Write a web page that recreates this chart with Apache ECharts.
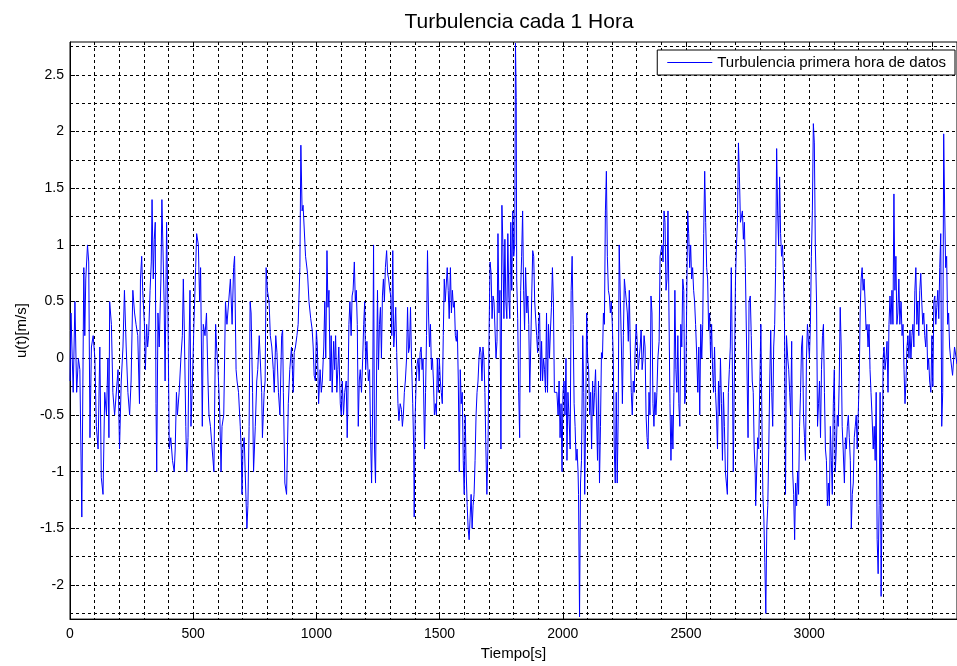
<!DOCTYPE html>
<html>
<head>
<meta charset="utf-8">
<script src="https://cdn.jsdelivr.net/npm/echarts@6/dist/echarts.min.js"></script>
<style>
html, body { margin: 0; background: #fff; }
#turbulencia { width: 957px; height: 666px; }
</style>
</head>
<body>
<div id="turbulencia"></div>
<script>
// tiempo [s] y u(t) [m/s]
var tiempo = [
  0,4,13,20,27,34,40,48,56,60, 64,71,76,81,87,94,101,107,114,121,
  127,134,141,148,154,158,161,168,174,181, 188,195,201,208,215,221,228,235,242,248,
  255,262,268,275,282,286,291,295,302,306, 311,315,319,325,330,333,338,342,346,349,
  352,357,362,369,373,378,382,386,392,397, 403,409,416,423,427,432,436,443,450,456,
  460,464,470,474,479,483,487,491,497,503, 510,514,521,526,530,537,541,548,554,560,
  564,570,577,584,591,595,601,608,613,617, 624,631,637,644,651,658,664,668,674,678,
  684,691,695,698,702,707,711,718,722,727, 731,735,741,745,752,758,762,768,772,778,
  781,788,792,796,801,808,813,819,825,829, 835,840,846,852,859,863,866,872,879,886,
  892,899,906,910,915,921,926,933,937,942, 946,
  956,964,970,977,983,987,991,996,1000,1004, 1009,1015,1020,1024,1030,1034,1038,1043,1047,1051,
  1056,1060,1064,1070,1074,1078,1083,1087,1091,1097, 1101,1105,1110,1115,1121,1125,1127,1132,1136,1141,
  1145,1149,1154,1158,1162,1166,1170,1174,1178,1183, 1188,1192,1196,1200,1205,1211,1216,1220,1224,1228,
  1232,1236,1240,1244,1248,1252,1256,1260,1264,1268, 1272,1276,1280,1285,1289,1293,1298,1302,1306,1310,
  1314,1318,1322,1326,1331,1335,1340,1345,1349,1353, 1357,1361,1366,1370,1374,1378,1382,1386,1391,1395,
  1397,1401,1405,1409,1413,1417,1421,1425,1429,1433, 1439,1443,1447,1451,1455,1459,1463,1467,1471,1475,
  1479,1483,1487,1491,1495,1499,1503,1507,1511,1515, 1519,1523,1527,1531,1535,1539,1544,1548,1552,1556,
  1560,1564,1568,1572,1576,1580,1584,1588,1592,1596, 1600,1604,1608,1612,1616,1620,1624,1628,1632,1636,
  1640,1644,1648,1652,1656,1660,1664,1668,1672,1676, 1680,1684,1688,1692,1697,1701,1705,1709,1713,1717,
  1721,1725,1729,1733,1737,1741,1745,1749,1753,1757, 1761,1765,1769,1773,1777,1781,1785,1789,1793,1797,
  1801,1805,1808,1811,1813,1817,1821,1825,1829,1833, 1837,1841,1845,1849,1854,1858,1862,1866,1870,1874,
  1878,1882,1886,1890,1894,1898,1902,1906,1910,1914, 1918,1922,1926,1930,1934,1938,1942,1946,1950,1954,
  1958,1962,1966,
  1976,1981,1985,1989,1993,1997,2001,2005,2009,2013, 2017,2021,2025,2030,2034,2038,2042,2046,2050,2054,
  2058,2062,2064,2068,2072,2076,2081,2085,2089,2093, 2097,2101,2105,2109,2113,2117,2121,2125,2129,2133,
  2137,2141,2145,2149,2153,2157,2161,2165,2169,2173, 2177,2181,2185,2189,2193,2197,2201,2205,2209,2213,
  2217,2221,2225,2229,2234,2238,2242,2246,2250,2254, 2258,2262,2266,2270,2274,2278,2282,2286,2290,2294,
  2298,2302,2306,2310,2314,2318,2322,2326,2330,2334, 2338,2342,2346,2350,2354,2358,2362,2366,2370,2374,
  2378,2382,2386,2391,2395,2399,2403,2407,2411,2415, 2419,2423,2427,2431,2435,2439,2443,2447,2451,2455,
  2459,2463,2467,2471,2475,2479,2483,2487,2491,2495, 2499,2503,2507,2511,2515,2519,2523,2527,2531,2535,
  2539,2544,2548,2552,2556,2560,2564,2568,2572,2576, 2580,2584,2588,2592,2596,2600,2604,2608,2612,2616,
  2620,2624,2628,2632,2636,2640,2644,2648,2652,2656, 2660,2664,2668,2672,2676,2680,2684,2688,2692,2697,
  2701,2705,2709,2713,2717,2721,2725,2729,2733,2737, 2741,
  2752,2756,2761,2765,2769,2773,2777,2781,2783,2787, 2791,2795,2800,2804,2808,2812,2816,2820,2824,2828,
  2832,2836,2840,2844,2848,2852,2856,2860,2864,2868, 2872,2876,2880,2884,2888,2892,2896,2900,2904,2908,
  2913,2917,2921,2925,2929,2933,2937,2941,2945,2949, 2953,2957,2961,2965,2969,2973,2977,2981,2985,2989,
  2993,2997,3001,3005,3009,3013,3017,3021,3025,3030, 3034,3038,3042,3046,3050,3054,3058,3062,3066,3070,
  3074,3078,3082,3086,3090,3094,3098,3102,3106,3110, 3114,3118,3122,3126,3130,3134,3138,3143,3147,3151,
  3155,3159,3163,3167,3171,3175,3179,3183,3187,3191, 3195,3199,3203,3207,3211,3215,3219,3223,3227,3231,
  3235,3239,3243,3247,3251,3255,3260,3264,3268,3272, 3276,3280,3284,3288,3292,3296,3300,3304,3308,3312,
  3316,3320,3324,3328,3332,3336,3340,3344,3348,3352, 3356,3360,3364,3368,3373,3377,3381,3385,3389,3393,
  3397,3401,3405,3409,3413,3417,3421,3425,3429,3433, 3437,3441,3445,3449,3453,3457,3461,3465,3469,3473,
  3477,3481,3485,3489,3494,3498,3502,3506,3510,3514, 3518,3522,3526,3530,3534,3538,3542,3546,3550,3554,
  3558,3562,3566,3570,3574,3582,3590,3600
];
var turbulencia = [
  -0.2,0.4,-0.3,0.5,-0.3,0,-0.1,-1.4,0.8,0.2, 0.7,1.0,0.85,-0.7,0.1,0.2,0,-0.6,-0.8,0.1,
  -1.05,-1.2,-0.3,-0.5,0,-0.7,0.5,0.3,-0.3,-0.5, -0.5,-0.1,-0.8,-0.2,0.1,0.6,0.1,-0.3,-0.5,-0.2,
  0.6,0.4,0.3,0.2,-0.4,0.7,0.9,0.6,0.3,-0.1, 0.3,0.1,0.2,0.6,0.85,1.4,0.7,1.05,1.2,-0.4,
  -1.0,0.4,0.1,0.7,1.4,1.4,0.5,-0.2,1.2,0.5, -0.8,-0.7,-0.9,-1.0,-0.8,-0.3,-0.5,-0.3,0,0.2,
  0.7,0.25,-0.6,-1.0,-0.7,0.1,0.6,-0.6,-0.2,0.3, 0.8,1.1,1.0,0.5,0.8,-0.6,0.3,0.2,0.4,-0.2,
  -0.5,-0.6,-0.8,-1.0,0.3,0.1,-0.1,-0.5,-1.0,-0.6, -0.5,0.5,0.3,0.5,0.7,0.3,0.8,0.9,-0.1,-0.2,
  -0.3,-0.6,-0.8,-1.2,-0.8,-0.7,-1.0,-1.5,-1.3,-0.6, 0.5,0.4,-0.3,-1.0,-0.6,-0.2,-0.1,0.2,0,-0.3,
  -0.7,-0.3,-0.2,0.8,0.6,0.5,0.2,0.1,-0.1,-0.3, 0.2,0.05,-0.3,-0.5,0.2,0.25,-0.3,-1.1,-1.2,-0.4,
  -0.1,0.1,-0.3,0.05,0.1,0.2,0.3,0.8,1.88,1.3, 1.35,
  0.9,0.75,0.5,0.35,0.25,0.1,-0.15,-0.2,0.25,0.1, -0.4,-0.1,-0.3,-0.2,0.1,0.5,0.0,0.95,0.45,0.6,
  -0.2,0.2,-0.3,0.15,-0.1,0.2,-0.3,-0.1,0.1,-0.4, -0.5,-0.2,-0.5,-0.3,-0.2,-0.7,-0.5,0.3,0.5,0.2,
  0.55,0.6,0.85,0.5,0.6,0.3,-0.6,-0.2,-0.1,-0.3, 0.0,0.3,0.5,-0.1,0.15,-0.2,-0.1,-0.7,-1.1,-0.5,
  1.0,-0.8,-1.1,-0.2,0.6,-0.1,0.3,0.45,0.0,0.55, 0.7,0.5,0.8,0.95,0.75,0.7,0.6,0.55,0.2,0.95,
  0.1,0.25,0.45,0.05,-0.4,-0.55,-0.4,-0.45,-0.6,-0.5, -0.3,-0.2,0.0,0.45,0.05,0.1,0.45,0.0,-0.4,-0.8,
  -1.4,-0.5,-0.2,-0.05,0.0,-0.2,0.05,0.1,-0.1,0.0, -0.8,-0.3,0.2,0.95,0.4,0.1,0.3,-0.1,0.0,-0.2,
  -0.5,-0.4,-0.5,0.0,-0.3,0.0,-0.2,-0.3,-0.4,0.2, 0.7,0.5,0.5,0.8,0.6,0.35,0.8,0.4,0.6,0.45,
  0.5,0.2,0.15,0.25,-0.2,-1.0,-0.1,-0.4,-0.3,-0.9, -1.2,-0.5,-1.0,-1.3,-1.5,-1.6,-1.4,-1.2,-1.5,-1.3,
  -1.2,-0.9,-0.5,-0.3,-0.2,0.0,0.1,0.05,-0.2,0.1, 0.0,-0.3,-0.8,-1.2,-0.7,0.25,0.85,0.75,0.35,0.55,
  0.5,0.25,0.0,0.15,1.1,0.4,0.6,-0.8,1.35,1.0, 0.35,1.05,0.5,0.35,1.1,0.55,0.35,1.2,0.6,1.3,
  0.9,1.0,2.78,2.3,0.7,0.35,-0.3,-0.7,0.6,0.9, 1.3,0.6,0.25,0.8,0.4,0.55,0.3,-0.3,0.1,0.55,
  0.95,0.9,0.5,0.5,0.2,0.05,0.3,0.4,-0.2,0.15, -0.2,0.0,-0.1,-0.3,0.4,-0.3,0.3,0.0,0.25,0.45,
  0.8,0.5,-0.3,
  -0.3,-0.5,-0.2,-0.7,-0.4,-1.0,-0.3,-0.2,-0.5,0.0, -0.9,-0.3,-0.5,-0.8,0.6,0.9,0.3,-0.4,-0.6,-0.9,
  -0.8,-1.0,-1.2,-2.28,-1.1,-0.9,0.2,-0.3,-1.2,-0.5, 0.4,0.0,-0.1,-0.5,-0.3,-0.8,-0.2,-0.5,-0.3,-0.1,
  -0.5,-0.9,-0.2,-1.1,-0.6,0.05,0.0,0.4,0.3,1.3, 1.65,0.9,0.6,0.55,0.4,0.5,0.3,0.0,-0.8,-1.1,
  -0.3,-1.1,-0.5,1.0,0.5,0.1,-0.4,0.2,0.7,0.6, 0.6,0.4,0.15,0.6,0.1,-0.3,-0.5,-0.2,-0.3,0.1,
  0.3,0.15,-0.1,0.0,0.1,0.25,-0.1,0.0,0.2,0.1, -0.5,-0.7,-0.8,-0.3,-0.5,0.55,0.4,-0.4,-0.6,-0.3,
  -0.5,-0.3,0.0,0.15,0.9,0.9,1.0,0.85,1.3,1.2, 0.6,0.7,1.3,0.4,-0.4,-0.9,-0.5,-0.8,-0.3,0.6,
  -0.1,-0.3,0.2,-0.4,-0.6,0.3,0.1,0.7,0.6,-0.4, -0.3,0.5,1.3,1.1,0.8,1.0,0.7,0.8,0.6,0.5,
  0.3,0.0,-0.3,0.1,-0.5,0.3,0.0,0.3,1.1,1.65, 1.2,0.8,0.7,0.25,0.4,0.0,0.3,-0.1,-0.3,0.1,
  -0.3,-0.5,-0.8,-0.2,-0.5,0.0,-0.4,-0.9,-0.3,-0.6, -1.0,-1.1,-1.2,-0.3,-0.1,0.1,0.8,0.0,-1.0,-1.0,
  0.7,1.0,1.2,1.9,1.6,1.2,1.2,1.3,1.05,1.2, 0.8,
  -0.7,0.5,0.55,0.2,-0.2,-0.3,-0.8,-1.0,-1.3,-1.0, -0.7,-0.8,-0.2,0.3,-0.5,-1.2,-1.4,-1.8,-2.25,-1.5,
  -1.3,-0.8,-0.2,0.25,-0.3,-0.6,0.1,0.3,0.8,1.85, 1.3,1.0,1.6,1.1,0.9,1.0,0.7,0.3,-1.2,0.2,
  0.0,-0.1,-0.3,-0.5,0.15,-1.0,-1.2,-1.6,-1.1,-1.3, -1.0,-1.2,-0.6,-0.3,0.1,0.2,-0.5,-0.7,-0.9,0.0,
  0.3,0.3,0.0,0.3,0.9,1.3,2.07,1.9,1.0,0.5, -0.6,-0.4,-0.2,-0.7,-0.1,0.2,0.3,-0.3,-0.8,-0.9,
  -1.3,-1.1,-1.3,-0.6,-0.9,-1.2,-0.4,-0.1,-1.0,-0.8, -0.5,-0.6,-0.2,0.45,0.1,-0.6,-0.8,-1.1,-0.7,-0.8,
  -0.6,-0.5,-0.7,-0.9,-1.5,-1.2,-1.1,-0.7,-0.6,-0.5, -0.8,-0.5,-0.2,0.4,0.7,0.8,0.6,0.7,0.5,0.25,
  0.3,0.1,0.3,-0.1,-0.3,-0.5,-0.8,-0.6,-0.9,-0.3, -1.6,-1.9,-1.3,-0.3,-2.1,-1.2,0.0,0.1,-0.1,0.0,
  0.15,-0.3,0.3,0.55,0.3,0.6,0.3,1.45,0.6,0.9, 0.3,0.4,0.7,0.3,0.5,0.2,0.3,-0.1,-0.4,-0.2,
  0.1,0.2,0.0,0.25,0.0,0.2,0.3,0.1,0.6,0.8, 0.3,0.5,0.2,0.6,0.75,0.5,0.3,0.4,0.2,0.1,
  0.3,-0.1,0.0,-0.2,-0.3,0.2,-0.25,0.5,0.55,0.3, 0.45,0.6,0.35,0.8,1.1,-0.6,-0.3,1.98,1.3,0.8,
  0.9,0.3,0.4,0.1,0.0,-0.15,0.1,-0.05
];
var xTicks = [0, 500, 1000, 1500, 2000, 2500, 3000, 3500];
var yTicks = [-2, -1.5, -1, -0.5, 0, 0.5, 1, 1.5, 2, 2.5];
var yMin = -2.3, yMax = 2.79;
var xMin = 0, xMax = 3600;

var datos = tiempo.map(function (t, i) { return [t, turbulencia[i]]; });

var chart = echarts.init(document.getElementById('turbulencia'));
var fuente = 'Liberation Sans, Arial, sans-serif';
var rejilla = { color: '#000', width: 1, type: [3, 3] };
var nada = 'rgba(0,0,0,0)';

var option = {
    animation: false,
    backgroundColor: '#fff',
    title: {
        text: 'Turbulencia cada 1 Hora',
        left: 514,
        top: 7,
        textAlign: 'center',
        textStyle: { fontFamily: fuente, fontSize: 21, fontWeight: 'normal', color: '#000' }
    },
    legend: {
        data: [{ name: 'Turbulencia primera hora de datos', icon: 'rect' }],
        right: 2,
        top: 50,
        padding: [5, 9, 5, 10],
        itemWidth: 45,
        itemHeight: 1,
        itemStyle: { color: '#0000ff', borderWidth: 0 },
        backgroundColor: '#fff',
        borderColor: '#000',
        borderWidth: 1,
        borderRadius: 0,
        textStyle: { fontFamily: fuente, fontSize: 15, color: '#000' }
    },
    grid: {
        left: 70, right: -6, top: 42, bottom: 44,
        show: true, borderColor: '#000', borderWidth: 1, backgroundColor: '#fff'
    },
    xAxis: [
        {   // rejilla cada 100 s
            type: 'value', position: 'bottom', min: xMin, max: xMax, interval: 100,
            axisLine: { show: true, onZero: false, lineStyle: { color: '#000' } },
            axisTick: { show: false }, axisLabel: { show: false },
            splitLine: { show: true, lineStyle: rejilla }
        },
        {   // marcas y etiquetas
            type: 'value', position: 'bottom', min: xMin, max: xMax, interval: 500,
            axisLine: { show: false, onZero: false },
            axisTick: { show: true, inside: true, length: 5, customValues: xTicks, lineStyle: { color: '#000' } },
            axisLabel: { customValues: xTicks, showMaxLabel: false, margin: 8, fontFamily: fuente, fontSize: 14, color: '#000',
                formatter: function (v) { return String(v); } },
            splitLine: { show: false },
            name: 'Tiempo[s]', nameLocation: 'middle', nameGap: 25,
            nameTextStyle: { fontFamily: fuente, fontSize: 15, color: '#000' }
        },
        {   // marcas superiores
            type: 'value', position: 'top', min: xMin, max: xMax, interval: 500,
            axisLine: { show: false, onZero: false },
            axisTick: { show: true, inside: true, length: 5, customValues: xTicks, lineStyle: { color: '#000' } },
            axisLabel: { show: false }, splitLine: { show: false }
        }
    ],
    yAxis: [
        {   // rejilla cada 0.25 (una linea de cada cinco de 0.05)
            type: 'value', position: 'left', min: yMin, max: yMax, interval: 0.05,
            axisLine: { show: true, onZero: false, lineStyle: { color: '#000' } },
            axisTick: { show: false }, axisLabel: { show: false },
            splitLine: { show: true, lineStyle: { color: [nada, '#000', nada, nada, nada], width: 1, type: [3, 3] } }
        },
        {   // marcas y etiquetas
            type: 'value', position: 'left', min: yMin, max: yMax, interval: 0.05,
            axisLine: { show: false, onZero: false },
            axisTick: { show: true, inside: true, length: 5, customValues: yTicks, lineStyle: { color: '#000' } },
            axisLabel: { customValues: yTicks, margin: 6, fontFamily: fuente, fontSize: 14, color: '#000',
                formatter: function (v) { return String(Math.round(v * 10) / 10); } },
            splitLine: { show: false },
            name: 'u(t)[m/s]', nameLocation: 'middle', nameRotate: 90, nameGap: 40,
            nameTextStyle: { fontFamily: fuente, fontSize: 15, color: '#000' }
        }
    ],
    series: [
        {
            name: 'Turbulencia primera hora de datos',
            type: 'line',
            xAxisIndex: 0,
            yAxisIndex: 0,
            data: datos,
            symbol: 'none',
            showSymbol: false,
            clip: true,
            lineStyle: { color: '#0000ff', width: 1 },
            itemStyle: { color: '#0000ff' }
        }
    ]
};
chart.setOption(option);
</script>
</body>
</html>
